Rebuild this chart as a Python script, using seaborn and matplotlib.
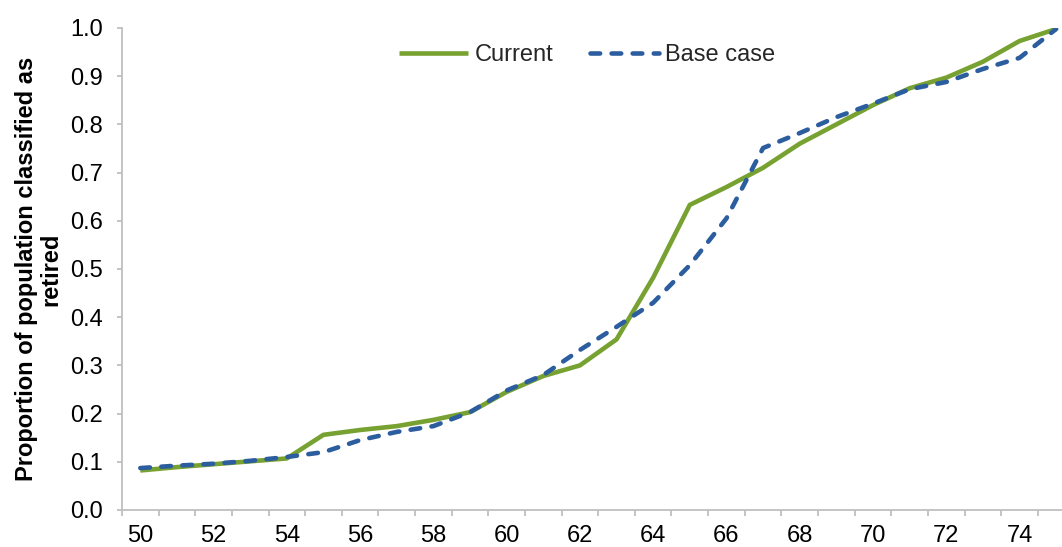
import matplotlib
matplotlib.use("Agg")
import matplotlib.pyplot as plt
import seaborn as sns
import pandas as pd
import numpy as np
from matplotlib.ticker import MultipleLocator, FixedLocator, FormatStrFormatter

# Age at which the proportion is measured
ages = list(range(50, 76))

# Proportion of population classified as retired, by scenario
current = [0.082, 0.089, 0.095, 0.101, 0.107, 0.156, 0.166, 0.174, 0.187, 0.203,
           0.245, 0.278, 0.300, 0.354, 0.482, 0.633, 0.670, 0.710, 0.760, 0.800,
           0.840, 0.875, 0.897, 0.930, 0.973, 0.998]
base_case = [0.087, 0.092, 0.096, 0.102, 0.110, 0.120, 0.145, 0.162, 0.174, 0.203,
             0.248, 0.280, 0.332, 0.380, 0.430, 0.508, 0.605, 0.751, 0.782, 0.815,
             0.843, 0.873, 0.888, 0.915, 0.938, 0.998]

series_names = ["Current", "Base case"]
x_labels = [str(a) for a in range(50, 76, 2)]

df = pd.DataFrame({
    "age": ages * 2,
    "value": current + base_case,
    "series": [series_names[0]] * len(ages) + [series_names[1]] * len(ages),
})

sns.set_theme(style="white")
plt.rcParams["font.family"] = ["Liberation Sans", "DejaVu Sans"]

W, H = 1062, 547
fig = plt.figure(figsize=(W / 100, H / 100), dpi=100)
ax = fig.add_axes([122 / W, (H - 510) / H, 1 - 122 / W, (510 - 28) / H])

palette = {"Current": "#77a232", "Base case": "#2c5d9f"}
dashes = {"Current": "", "Base case": (2.1, 2.5)}
sns.lineplot(data=df, x="age", y="value", hue="series", style="series",
             palette=palette, dashes=dashes, linewidth=3.3,
             dash_capstyle="round", solid_capstyle="butt", ax=ax)

ax.set_xlim(49.5, 75.16)
ax.set_ylim(0, 1.0)
ax.yaxis.set_major_locator(MultipleLocator(0.1))
ax.yaxis.set_major_formatter(FormatStrFormatter("%.1f"))
ax.xaxis.set_major_locator(FixedLocator([int(s) for s in x_labels]))
ax.set_xticklabels(x_labels)
ax.xaxis.set_minor_locator(FixedLocator(np.arange(49.5, 75.5, 1.0)))

spine_col = "#bfbfbf"
for side in ["top", "right"]:
    ax.spines[side].set_visible(False)
for side in ["left", "bottom"]:
    ax.spines[side].set_color(spine_col)
    ax.spines[side].set_linewidth(1.3)

ax.tick_params(axis="y", which="major", direction="out", length=3.6, width=1.3,
               color=spine_col, labelsize=17, labelcolor="black", pad=10, left=True)
ax.tick_params(axis="x", which="major", length=0, labelsize=17,
               labelcolor="black", pad=11, bottom=True)
ax.tick_params(axis="x", which="minor", direction="out", length=4, width=1.3,
               color=spine_col, bottom=True)

ax.set_xlabel("")
ax.set_ylabel("Proportion of population classified as\nretired", fontsize=17,
              fontweight="bold", color="black", labelpad=6, linespacing=1.05)
ax.grid(False)

# Legend built from the drawn lines so the keys share their width and dashes
ax.get_legend().remove()
ax.legend(handles=ax.lines[:2], labels=series_names, loc="center",
          bbox_to_anchor=(587 / W, 1 - 55 / H), bbox_transform=fig.transFigure,
          ncol=2, frameon=False, fontsize=17, handlelength=2.95,
          handletextpad=0.25, columnspacing=1.55, borderpad=0)

fig.savefig("out.png", dpi=100)
